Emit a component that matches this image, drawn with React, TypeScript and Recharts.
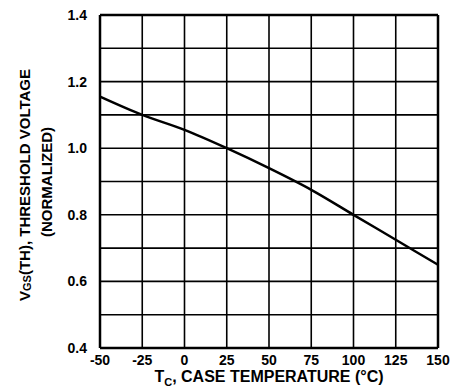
import React from "react"
import {
  LineChart,
  Line,
  XAxis,
  YAxis,
  CartesianGrid,
  ReferenceLine,
  Label,
} from "recharts"

const temps = [-50, -25, 0, 25, 50, 75, 100, 125, 150]
const vth = [1.155, 1.1, 1.055, 1.0, 0.94, 0.875, 0.8, 0.725, 0.65]
const xTicks = [-50, -25, 0, 25, 50, 75, 100, 125, 150]
const yTicks = [0.4, 0.5, 0.6, 0.7, 0.8, 0.9, 1.0, 1.1, 1.2, 1.3, 1.4]
const yLabels = ["0.4", "0.6", "0.8", "1.0", "1.2", "1.4"]

const data = temps.map((t, i) => ({ t, v: vth[i] }))

const font = "'Liberation Sans', Arial, sans-serif"
const tickStyle = { fontFamily: font, fontWeight: 700, fontSize: 14, fill: "#000" }

export default function App() {
  return (
    <LineChart
      width={450}
      height={380}
      data={data}
      margin={{ top: 7, right: 20, bottom: 0, left: 0 }}
    >
      <CartesianGrid stroke="#000" strokeWidth={1.6} />
      <XAxis
        dataKey="t"
        type="number"
        domain={[-50, 150]}
        ticks={xTicks}
        interval={0}
        tickSize={0}
        tickMargin={7}
        tickLine={false}
        axisLine={{ stroke: "#000", strokeWidth: 2.5 }}
        tick={tickStyle}
        height={40}
      >
        <Label
          content={() => (
            <text
              x={261}
              y={374}
              textAnchor="middle"
              fontFamily={font}
              fontWeight={700}
              fontSize={16}
              fill="#000"
            >
              T<tspan fontSize={11} dy={4}>C</tspan>
              <tspan dy={-4}>, CASE TEMPERATURE (°C)</tspan>
            </text>
          )}
        />
      </XAxis>
      <YAxis
        type="number"
        domain={[0.4, 1.4]}
        ticks={yTicks}
        interval={0}
        width={92}
        tickSize={0}
        tickMargin={13}
        tickLine={false}
        axisLine={{ stroke: "#000", strokeWidth: 2.5 }}
        tick={tickStyle}
        tickFormatter={(v: number) =>
          yLabels.includes(v.toFixed(1)) ? v.toFixed(1) : ""
        }
      >
        <Label
          content={() => (
            <g fontFamily={font} fontWeight={700} fill="#000">
              <text
                x={16}
                y={177}
                fontSize={15}
                textAnchor="middle"
                dominantBaseline="central"
                transform="rotate(-90 16 177)"
              >
                V<tspan fontSize={11} dy={3}>GS</tspan>
                <tspan dy={-3}>(TH), THRESHOLD VOLTAGE</tspan>
              </text>
              <text
                x={38}
                y={174}
                fontSize={15}
                textAnchor="middle"
                dominantBaseline="central"
                transform="rotate(-90 38 174)"
              >
                (NORMALIZED)
              </text>
            </g>
          )}
        />
      </YAxis>
      <ReferenceLine x={150} stroke="#000" strokeWidth={2.5} />
      <ReferenceLine y={1.4} stroke="#000" strokeWidth={2.5} />
      <Line
        type="monotone"
        dataKey="v"
        stroke="#000"
        strokeWidth={2.5}
        dot={false}
        isAnimationActive={false}
      />
    </LineChart>
  )
}
